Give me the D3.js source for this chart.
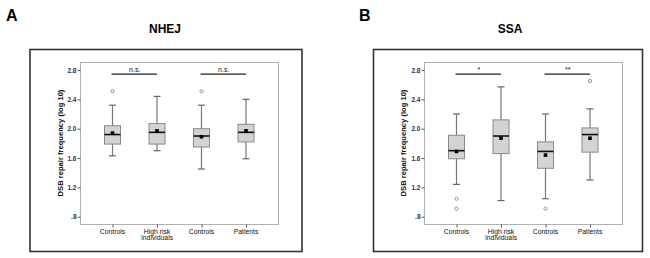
<!DOCTYPE html>
<html><head><meta charset="utf-8">
<script src="https://cdn.jsdelivr.net/npm/d3@7"></script>
<style>body{margin:0;background:#fff}svg{display:block}text{font-family:Arial,"Liberation Sans",sans-serif}</style>
</head><body><svg id="c" width="650" height="258"></svg>
<script>
const categories = ["Controls", "High risk|Individuals", "Controls", "Patients"];
const yTicks = [0.8, 1.2, 1.6, 2.0, 2.4, 2.8];
const yTickLabels = [".8", "1.2", "1.6", "2.0", "2.4", "2.8"];
// [whiskerLow, Q1, median, Q3, whiskerHigh, mean]
const nhejStats = [
  [1.63, 1.79, 1.92, 2.04, 2.32, 1.94],
  [1.70, 1.79, 1.95, 2.07, 2.44, 1.97],
  [1.45, 1.75, 1.90, 2.00, 2.32, 1.89],
  [1.59, 1.82, 1.95, 2.06, 2.40, 1.97]
];
const nhejOutliers = [[2.51], [], [2.51], []];
const ssaStats = [
  [1.24, 1.59, 1.70, 1.91, 2.20, 1.69],
  [1.02, 1.66, 1.90, 2.12, 2.57, 1.87],
  [1.045, 1.46, 1.69, 1.82, 2.20, 1.64],
  [1.30, 1.68, 1.92, 2.01, 2.27, 1.87]
];
const ssaOutliers = [[1.045, 0.91], [], [0.91], [2.65]];
const nhejSig = [[0, 1, "n.s."], [2, 3, "n.s."]];
const ssaSig = [[0, 1, "*"], [2, 3, "**"]];
const sigLevel = 2.745;

const svg = d3.select("#c");

function panel(opt) {
  const g = svg.append("g");
  g.append("rect").attr("x", opt.fx).attr("y", 49.5).attr("width", opt.fw).attr("height", 202)
    .attr("fill", "none").attr("stroke", "#333").attr("stroke-width", 1.6);
  g.append("text").attr("x", opt.lx).attr("y", 21).attr("font-size", 16).attr("font-weight", "bold").text(opt.letter);
  g.append("text").attr("x", opt.tx).attr("y", 33).attr("text-anchor", "middle").attr("font-size", 12).attr("font-weight", "bold").text(opt.title);

  const px0 = opt.px, px1 = opt.px + 198, py0 = 62, py1 = 224;
  const y = d3.scaleLinear().domain([0.8, 2.8]).range([216.7, 70]);
  const x = d3.scalePoint().domain(d3.range(categories.length)).range([px0 + 32.5, px1 - 32]);

  g.append("rect").attr("x", px0 + 0.5).attr("y", py0 + 0.5).attr("width", px1 - px0).attr("height", py1 - py0)
    .attr("fill", "none").attr("stroke", "#b0b0b0").attr("stroke-width", 1);

  const yAxis = d3.axisLeft(y).tickValues(yTicks).tickSize(3).tickPadding(1)
    .tickFormat((d, i) => yTickLabels[i]);
  const ya = g.append("g").attr("transform", `translate(${px0 + 0.5},0)`).call(yAxis);
  ya.select(".domain").remove();
  ya.selectAll("line").attr("stroke", "#555");
  ya.selectAll("text").attr("font-size", 6.5).attr("fill", "#333").attr("font-weight", "bold")
    .attr("font-family", "Arial, 'Liberation Sans', sans-serif");

  const xAxis = d3.axisBottom(x).tickSize(3).tickFormat(() => "");
  const xa = g.append("g").attr("transform", `translate(0,${py1 + 0.5})`).call(xAxis);
  xa.select(".domain").remove();
  xa.selectAll("line").attr("stroke", "#555");
  categories.forEach((c, i) => {
    const t = g.append("text").attr("x", x(i)).attr("y", 234).attr("text-anchor", "middle")
      .attr("font-size", 6.8).attr("fill", "#111");
    c.split("|").forEach((s, j) => t.append("tspan").attr("x", x(i)).attr("dy", j ? 6.2 : 0).text(s));
  });

  g.append("text").attr("transform", `translate(${opt.ylx},${(py0 + py1) / 2}) rotate(-90)`)
    .attr("text-anchor", "middle").attr("font-size", 7.6).attr("font-weight", "bold").attr("fill", "#111")
    .text("DSB repair frequency (log 10)");

  const bw = 16, cw = 7;
  opt.stats.forEach((s, i) => {
    const cx = x(i);
    const [lo, q1, med, q3, hi, mean] = s;
    g.append("line").attr("x1", cx).attr("x2", cx).attr("y1", y(hi)).attr("y2", y(q3)).attr("stroke", "#777").attr("stroke-width", 1.2);
    g.append("line").attr("x1", cx).attr("x2", cx).attr("y1", y(q1)).attr("y2", y(lo)).attr("stroke", "#777").attr("stroke-width", 1.2);
    [hi, lo].forEach(v => g.append("line").attr("x1", cx - cw / 2).attr("x2", cx + cw / 2).attr("y1", y(v)).attr("y2", y(v))
      .attr("stroke", "#666").attr("stroke-width", 1.2));
    g.append("rect").attr("x", cx - bw / 2).attr("y", y(q3)).attr("width", bw).attr("height", y(q1) - y(q3))
      .attr("fill", "#d3d3d3").attr("stroke", "#8a8a8a").attr("stroke-width", 1);
    g.append("line").attr("x1", cx - bw / 2).attr("x2", cx + bw / 2).attr("y1", y(med)).attr("y2", y(med))
      .attr("stroke", "#111").attr("stroke-width", 1.6);
    g.append("rect").attr("x", cx - 1.8).attr("y", y(mean) - 1.8).attr("width", 3.6).attr("height", 3.6).attr("fill", "#000");
    opt.outliers[i].forEach(v => g.append("circle").attr("cx", cx).attr("cy", y(v)).attr("r", 1.6)
      .attr("fill", "#fff").attr("stroke", "#888").attr("stroke-width", 0.9));
  });

  opt.sig.forEach(([a, b, label]) => {
    g.append("line").attr("x1", x(a) - 1).attr("x2", x(b)).attr("y1", y(sigLevel)).attr("y2", y(sigLevel))
      .attr("stroke", "#222").attr("stroke-width", 1.3);
    g.append("text").attr("x", (x(a) + x(b)) / 2).attr("y", y(sigLevel) - 1.8).attr("text-anchor", "middle")
      .attr("font-size", 7).attr("fill", "#111").text(label);
  });
}

panel({letter: "A", lx: 6, title: "NHEJ", tx: 165, fx: 30, fw: 272, px: 80, ylx: 63, stats: nhejStats, outliers: nhejOutliers, sig: nhejSig});
panel({letter: "B", lx: 359, title: "SSA", tx: 510, fx: 373.5, fw: 269, px: 424, ylx: 406, stats: ssaStats, outliers: ssaOutliers, sig: ssaSig});
</script></body></html>
